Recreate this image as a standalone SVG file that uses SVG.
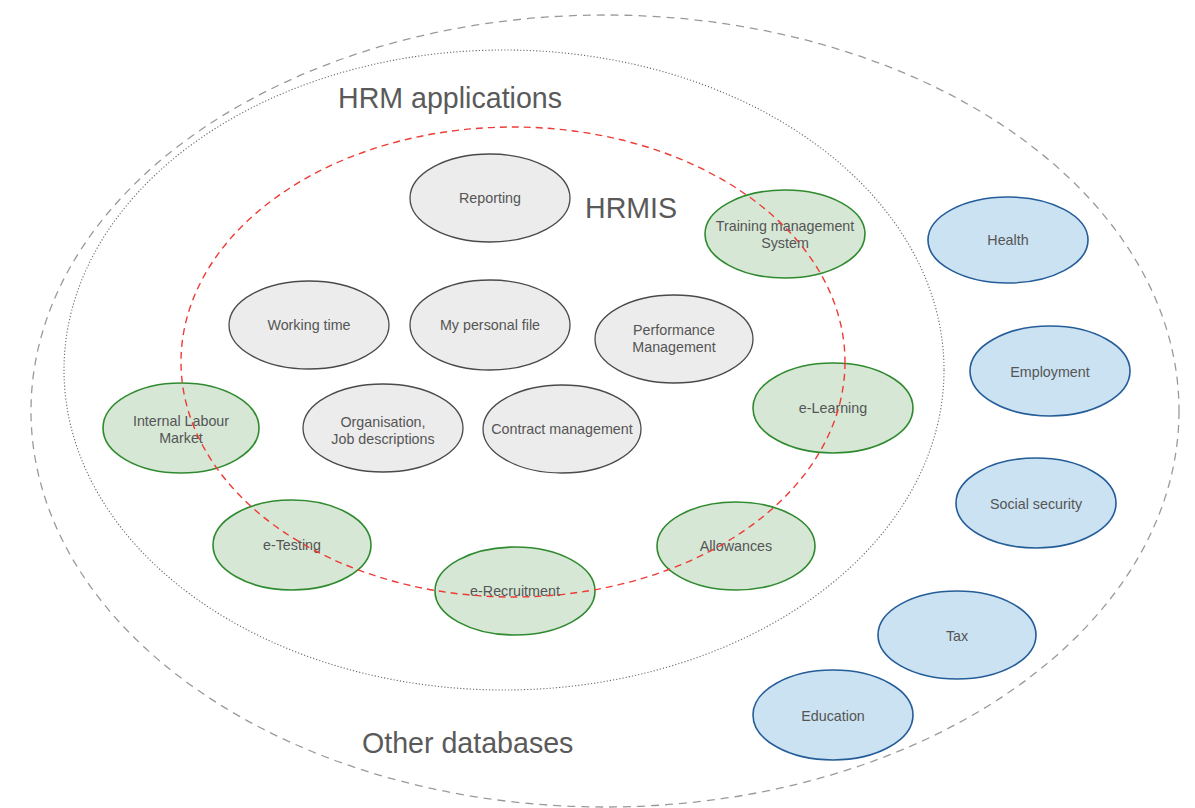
<svg xmlns="http://www.w3.org/2000/svg" width="1195" height="808" viewBox="0 0 1195 808">
<style>
.bg{fill:#ffffff}
.outer{fill:none;stroke:#9a9a9a;stroke-width:1.3;stroke-dasharray:8 6}
.hrm{fill:none;stroke:#6a6a6a;stroke-width:1.1;stroke-dasharray:1.2 2}
.hrmis{fill:none;stroke:#ee3b35;stroke-width:1.4;stroke-dasharray:7 5}
.core{fill:#ececec;stroke:#4a4a4a;stroke-width:1.3}
.app{fill:#d6e7d5;stroke:#2f8a2f;stroke-width:1.6}
.db{fill:#cbe2f2;stroke:#245d98;stroke-width:1.6}
.lbl{font-family:"Liberation Sans",Arial,sans-serif;font-size:14.3px;fill:#555555;text-anchor:middle}
.big{font-family:"Liberation Sans",Arial,sans-serif;font-size:28.6px;fill:#5a5a5a}
</style>
<rect class="bg" x="0" y="0" width="1195" height="808"/>
<g id="boundaries">
<ellipse id="other-databases-boundary" class="outer" cx="605" cy="411" rx="574" ry="396"/>
<ellipse id="hrm-applications-boundary" class="hrm" cx="504" cy="370" rx="440" ry="320"/>
</g>
<g id="titles">
<text class="big" x="338" y="108">HRM applications</text>
<text class="big" x="362" y="753">Other databases</text>
<text class="big" x="585" y="218">HRMIS</text>
</g>
<g id="reporting"><ellipse class="core" cx="490" cy="198" rx="80" ry="44"/><text class="lbl" x="490" y="203">Reporting</text></g>
<g id="working-time"><ellipse class="core" cx="309" cy="325" rx="80" ry="44"/><text class="lbl" x="309" y="330">Working time</text></g>
<g id="my-personal-file"><ellipse class="core" cx="490" cy="325" rx="80" ry="45"/><text class="lbl" x="490" y="330">My personal file</text></g>
<g id="performance-management"><ellipse class="core" cx="674" cy="339" rx="79" ry="44"/><text class="lbl" x="674" y="335">Performance</text><text class="lbl" x="674" y="352">Management</text></g>
<g id="organisation"><ellipse class="core" cx="383" cy="428" rx="80" ry="44"/><text class="lbl" x="383" y="427">Organisation,</text><text class="lbl" x="383" y="444">Job descriptions</text></g>
<g id="contract-management"><ellipse class="core" cx="562" cy="429" rx="79" ry="44"/><text class="lbl" x="562" y="434">Contract management</text></g>
<g id="training-management"><ellipse class="app" cx="785" cy="234" rx="80" ry="44"/><text class="lbl" x="785" y="231">Training management</text><text class="lbl" x="785" y="248">System</text></g>
<g id="e-learning"><ellipse class="app" cx="833" cy="408" rx="80" ry="45"/><text class="lbl" x="833" y="413">e-Learning</text></g>
<g id="allowances"><ellipse class="app" cx="736" cy="546" rx="79" ry="44"/><text class="lbl" x="736" y="551">Allowances</text></g>
<g id="e-recruitment"><ellipse class="app" cx="515" cy="591" rx="80" ry="44"/><text class="lbl" x="515" y="596">e-Recruitment</text></g>
<g id="e-testing"><ellipse class="app" cx="292" cy="545" rx="79" ry="45"/><text class="lbl" x="292" y="550">e-Testing</text></g>
<g id="internal-labour-market"><ellipse class="app" cx="181" cy="428" rx="78" ry="45"/><text class="lbl" x="181" y="426">Internal Labour</text><text class="lbl" x="181" y="443">Market</text></g>
<g id="health"><ellipse class="db" cx="1008" cy="240" rx="80" ry="43"/><text class="lbl" x="1008" y="245">Health</text></g>
<g id="employment"><ellipse class="db" cx="1050" cy="371" rx="80" ry="45"/><text class="lbl" x="1050" y="377">Employment</text></g>
<g id="social-security"><ellipse class="db" cx="1036" cy="503" rx="80" ry="45"/><text class="lbl" x="1036" y="509">Social security</text></g>
<g id="tax"><ellipse class="db" cx="957" cy="635" rx="79" ry="44"/><text class="lbl" x="957" y="641">Tax</text></g>
<g id="education"><ellipse class="db" cx="833" cy="715" rx="80" ry="45"/><text class="lbl" x="833" y="721">Education</text></g>
<g id="hrmis-boundary-group">
<ellipse id="hrmis-boundary" class="hrmis" cx="513" cy="362" rx="332" ry="235"/>
</g>
<g id="connectors"/>
</svg>
